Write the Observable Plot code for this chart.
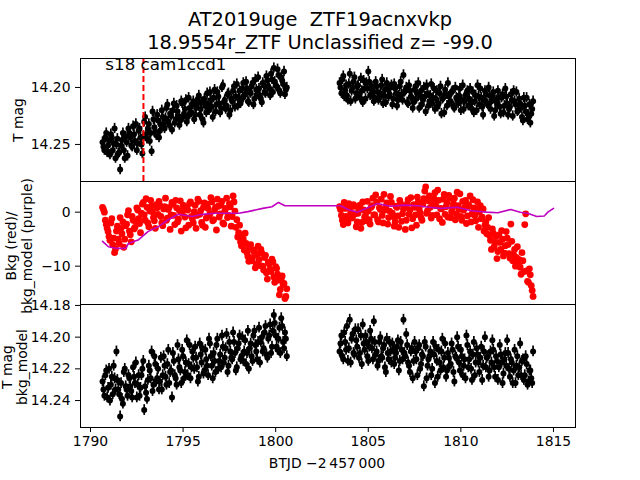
<!DOCTYPE html>
<html><head><meta charset="utf-8">
<script src="https://cdn.jsdelivr.net/npm/d3@7"></script>
<script src="https://cdn.jsdelivr.net/npm/@observablehq/plot@0.6"></script>
<style>
body{margin:0;background:#fff;}
#fig{position:relative;width:640px;height:480px;font-family:"DejaVu Sans",sans-serif;color:#000;overflow:hidden;background:#fff;}
.lbl{position:absolute;white-space:pre;text-align:center;font-size:13.9px;transform:translate(-50%,-50%) rotate(-90deg);}
.ttl{position:absolute;left:0;width:640px;text-align:center;white-space:pre;}
</style></head><body><div id="fig"></div><script>
// ---------------- data ----------------
const titleLines = ["AT2019uge  ZTF19acnxvkp", "18.9554r_ZTF Unclassified z= -99.0"];
const sectorLabel = "s18 cam1ccd1";
const tText = 1790.8, yText = 14.1798;
const tDash = 1792.86;
const xLabel = "BTJD \u22122\u2009457\u2009000";
const xTicks = [1790, 1795, 1800, 1805, 1810, 1815];
const y1Ticks = [14.20, 14.25];
const y2Ticks = [0, -10];
const y3Ticks = [14.18, 14.20, 14.22, 14.24];
const magErr1 = 0.0045;   // typical error, panel 1
const magErr3 = 0.0034;   // typical error, panel 3

// observation times (orbit 1 and orbit 2, two interleaved cadence sets)
const t1 = [
1790.7,1790.8,1790.9,1791.0,1791.1,1791.2,1791.3,1791.4,1791.5,1791.6,
1791.7,1791.8,1791.9,1792.0,1792.1,1792.2,1792.3,1792.4,1792.5,1792.6,
1792.7,1792.8,1792.9,1793.0,1793.1,1793.2,1793.3,1793.4,1793.5,1793.6,
1793.7,1793.8,1793.9,1794.0,1794.1,1794.2,1794.3,1794.4,1794.5,1794.6,
1794.7,1794.8,1794.9,1795.0,1795.1,1795.2,1795.3,1795.4,1795.5,1795.6,
1795.7,1795.8,1795.9,1796.0,1796.1,1796.2,1796.3,1796.4,1796.5,1796.6,
1796.7,1796.8,1796.9,1797.0,1797.1,1797.2,1797.3,1797.4,1797.5,1797.6,
1797.7,1797.8,1797.9,1798.0,1798.1,1798.2,1798.3,1798.4,1798.5,1798.6,
1798.7,1798.8,1798.9,1799.0,1799.1,1799.2,1799.3,1799.4,1799.5,1799.6,
1799.7,1799.8,1799.9,1800.0,1800.1,1800.2,1800.3,1800.4,1800.5,1800.6];
const t1h = [
1790.65,1790.75,1790.85,1790.95,1791.05,1791.15,1791.25,1791.35,1791.45,1791.55,
1791.65,1791.75,1791.85,1791.95,1792.05,1792.15,1792.25,1792.35,1792.45,1792.55,
1792.65,1792.75,1792.85,1792.95,1793.05,1793.15,1793.25,1793.35,1793.45,1793.55,
1793.65,1793.75,1793.85,1793.95,1794.05,1794.15,1794.25,1794.35,1794.45,1794.55,
1794.65,1794.75,1794.85,1794.95,1795.05,1795.15,1795.25,1795.35,1795.45,1795.55,
1795.65,1795.75,1795.85,1795.95,1796.05,1796.15,1796.25,1796.35,1796.45,1796.55,
1796.65,1796.75,1796.85,1796.95,1797.05,1797.15,1797.25,1797.35,1797.45,1797.55,
1797.65,1797.75,1797.85,1797.95,1798.05,1798.15,1798.25,1798.35,1798.45,1798.55,
1798.65,1798.75,1798.85,1798.95,1799.05,1799.15,1799.25,1799.35,1799.45,1799.55,
1799.65,1799.75,1799.85,1799.95,1800.05,1800.15,1800.25,1800.35,1800.45,1800.55];
const t2 = [
1803.5,1803.6,1803.7,1803.8,1803.9,1804.0,1804.1,1804.2,1804.3,1804.4,
1804.5,1804.6,1804.7,1804.8,1804.9,1805.0,1805.1,1805.2,1805.3,1805.4,
1805.5,1805.6,1805.7,1805.8,1805.9,1806.0,1806.1,1806.2,1806.3,1806.4,
1806.5,1806.6,1806.7,1806.8,1806.9,1807.0,1807.1,1807.2,1807.3,1807.4,
1807.5,1807.6,1807.7,1807.8,1807.9,1808.0,1808.1,1808.2,1808.3,1808.4,
1808.5,1808.6,1808.7,1808.8,1808.9,1809.0,1809.1,1809.2,1809.3,1809.4,
1809.5,1809.6,1809.7,1809.8,1809.9,1810.0,1810.1,1810.2,1810.3,1810.4,
1810.5,1810.6,1810.7,1810.8,1810.9,1811.0,1811.1,1811.2,1811.3,1811.4,
1811.5,1811.6,1811.7,1811.8,1811.9,1812.0,1812.1,1812.2,1812.3,1812.4,
1812.5,1812.6,1812.7,1812.8,1812.9,1813.0,1813.1,1813.2,1813.3,1813.4,
1813.5,1813.6,1813.7,1813.8,1813.9];
const t2h = [
1803.45,1803.55,1803.65,1803.75,1803.85,1803.95,1804.05,1804.15,1804.25,1804.35,
1804.45,1804.55,1804.65,1804.75,1804.85,1804.95,1805.05,1805.15,1805.25,1805.35,
1805.45,1805.55,1805.65,1805.75,1805.85,1805.95,1806.05,1806.15,1806.25,1806.35,
1806.45,1806.55,1806.65,1806.75,1806.85,1806.95,1807.05,1807.15,1807.25,1807.35,
1807.45,1807.55,1807.65,1807.75,1807.85,1807.95,1808.05,1808.15,1808.25,1808.35,
1808.45,1808.55,1808.65,1808.75,1808.85,1808.95,1809.05,1809.15,1809.25,1809.35,
1809.45,1809.55,1809.65,1809.75,1809.85,1809.95,1810.05,1810.15,1810.25,1810.35,
1810.45,1810.55,1810.65,1810.75,1810.85,1810.95,1811.05,1811.15,1811.25,1811.35,
1811.45,1811.55,1811.65,1811.75,1811.85,1811.95,1812.05,1812.15,1812.25,1812.35,
1812.45,1812.55,1812.65,1812.75,1812.85,1812.95,1813.05,1813.15,1813.25,1813.35,
1813.45,1813.55,1813.65,1813.75,1813.85];

// panel 1: T mag
const mag1a = [
14.252,14.244,14.257,14.247,14.241,14.255,14.236,14.250,14.258,14.272,
14.246,14.255,14.243,14.260,14.240,14.251,14.234,14.247,14.255,14.238,
14.244,14.258,14.230,14.241,14.236,14.247,14.256,14.228,14.239,14.224,
14.244,14.233,14.226,14.236,14.218,14.230,14.223,14.237,14.214,14.228,
14.221,14.233,14.212,14.226,14.219,14.230,14.209,14.222,14.215,14.228,
14.218,14.210,14.224,14.213,14.231,14.216,14.205,14.220,14.211,14.226,
14.202,14.215,14.208,14.222,14.200,14.213,14.219,14.206,14.224,14.210,
14.203,14.217,14.197,14.209,14.214,14.201,14.207,14.195,14.212,14.204,
14.199,14.215,14.193,14.206,14.201,14.210,14.196,14.204,14.190,14.199,
14.207,14.193,14.183,14.198,14.184,14.203,14.191,14.197,14.206,14.200];
const mag1ah = [
14.248,14.255,14.240,14.251,14.259,14.244,14.249,14.262,14.245,14.257,
14.251,14.240,14.262,14.248,14.236,14.244,14.252,14.241,14.232,14.249,
14.236,14.250,14.243,14.226,14.245,14.232,14.240,14.221,14.235,14.242,
14.229,14.238,14.220,14.232,14.227,14.215,14.233,14.225,14.220,14.231,
14.216,14.225,14.229,14.214,14.223,14.211,14.226,14.218,14.222,14.212,
14.224,14.215,14.207,14.219,14.228,14.210,14.222,14.214,14.204,14.217,
14.209,14.221,14.204,14.214,14.218,14.198,14.211,14.216,14.205,14.220,
14.212,14.199,14.208,14.216,14.203,14.211,14.196,14.206,14.201,14.213,
14.205,14.196,14.210,14.202,14.191,14.207,14.213,14.198,14.205,14.194,
14.201,14.188,14.204,14.195,14.199,14.189,14.205,14.194,14.186,14.202];
const mag1b = [
14.200,14.193,14.208,14.198,14.211,14.188,14.203,14.195,14.210,14.199,
14.206,14.192,14.213,14.201,14.196,14.186,14.207,14.199,14.212,14.195,
14.204,14.209,14.198,14.214,14.202,14.196,14.208,14.200,14.215,14.197,
14.205,14.211,14.199,14.206,14.189,14.203,14.213,14.198,14.208,14.218,
14.202,14.210,14.196,14.207,14.215,14.200,14.221,14.205,14.212,14.197,
14.209,14.219,14.203,14.214,14.199,14.210,14.222,14.206,14.196,14.213,
14.204,14.217,14.200,14.211,14.207,14.220,14.198,14.212,14.205,14.216,
14.201,14.213,14.222,14.207,14.198,14.215,14.209,14.224,14.203,14.214,
14.200,14.219,14.208,14.225,14.211,14.203,14.217,14.209,14.222,14.201,
14.214,14.219,14.206,14.225,14.212,14.204,14.220,14.214,14.226,14.209,
14.221,14.228,14.215,14.223,14.212];
const mag1bh = [
14.196,14.205,14.190,14.202,14.207,14.197,14.212,14.200,14.191,14.205,
14.198,14.209,14.203,14.194,14.210,14.201,14.195,14.206,14.203,14.209,
14.199,14.211,14.205,14.193,14.207,14.213,14.201,14.206,14.198,14.210,
14.201,14.216,14.207,14.195,14.211,14.204,14.200,14.214,14.203,14.209,
14.213,14.199,14.206,14.218,14.203,14.211,14.208,14.198,14.216,14.207,
14.214,14.201,14.210,14.217,14.205,14.223,14.209,14.202,14.216,14.208,
14.212,14.203,14.218,14.209,14.214,14.201,14.211,14.219,14.207,14.203,
14.210,14.218,14.204,14.212,14.220,14.208,14.201,14.217,14.211,14.206,
14.215,14.207,14.212,14.204,14.220,14.214,14.209,14.223,14.206,14.216,
14.208,14.224,14.217,14.211,14.203,14.215,14.221,14.210,14.218,14.229,
14.216,14.209,14.224,14.231,14.219];

// panel 2: background (red) and background model (purple)
const bkg2a = [
0.5,-1.5,-3.0,-4.5,-2.0,-6.0,-7.5,-3.5,-5.0,-1.0,
-4.0,-6.5,-2.5,-0.5,-3.5,-5.5,-1.5,-2.8,0.8,-1.2,
-3.8,1.5,-0.5,2.5,-2.0,0.2,1.2,-1.0,-3.0,0.8,
2.0,-0.8,-2.5,1.0,-1.5,0.5,-3.2,1.8,-0.6,2.2,
-1.8,0.3,-3.5,1.3,-0.9,0.6,-2.4,1.9,-1.2,0.1,
-3.0,2.4,-0.4,-1.9,0.9,-2.8,1.5,-0.7,2.7,-1.6,
0.4,-3.3,1.1,-0.3,2.0,-2.2,0.7,-1.0,1.6,-2.6,
3.0,0.2,-1.4,-3.8,-5.5,-4.2,-7.0,-5.8,-8.2,-6.5,
-9.0,-7.2,-10.3,-7.8,-8.8,-6.9,-10.0,-8.4,-11.2,-9.3,
-10.6,-8.7,-12.0,-10.1,-11.5,-15.3,-12.3,-13.4,-16.0,-14.2];
const bkg2ah = [
0.9,0.0,-2.3,-3.6,-5.2,-1.2,-4.8,-6.8,-2.6,-5.8,
-3.0,-1.8,-5.0,-2.2,0.3,-4.2,-0.8,-3.1,-1.7,0.4,
-2.1,-0.2,1.8,-1.5,0.9,-2.7,2.2,0.1,-1.6,1.4,
-0.4,1.2,-2.0,0.6,2.6,-1.1,0.9,-0.5,1.5,-2.3,
0.8,-1.3,2.1,-0.2,1.0,-2.9,0.4,1.6,-0.8,-2.0,
1.3,-0.6,2.0,0.3,-2.4,1.7,-1.1,0.7,-0.3,1.9,
-1.4,0.9,2.4,-0.9,1.3,-2.0,0.2,2.6,-0.6,1.0,
-0.8,1.9,-2.8,-4.6,-2.4,-6.2,-5.0,-3.9,-7.5,-9.1,
-6.0,-8.4,-7.0,-9.6,-6.3,-9.9,-7.6,-10.7,-8.0,-12.4,
-9.6,-11.0,-9.2,-13.0,-10.4,-12.6,-14.3,-11.8,-13.2,-15.6];
const bkg2b = [
0.5,-1.5,1.8,-0.8,-2.0,0.9,-1.1,1.4,-0.3,-1.8,
0.6,-3.0,1.9,-0.9,-1.6,0.2,-2.2,1.2,-0.5,3.2,
-1.4,0.8,2.4,-2.0,0.4,1.7,-1.0,2.9,-0.2,-2.6,
1.1,-0.7,2.2,-1.7,0.6,-3.2,1.5,-0.4,2.7,-1.2,
0.9,-2.4,1.9,-0.1,-1.5,2.5,4.7,0.3,3.0,-1.1,
1.8,3.6,-0.5,2.2,0.7,-1.9,3.3,1.0,-0.9,2.6,
0.1,1.6,-1.4,3.7,0.5,-0.8,2.0,0.9,-2.1,1.4,
3.0,-0.3,0.8,-1.6,1.9,0.0,-1.2,0.6,-2.4,-4.0,
-1.0,-5.2,-3.1,-6.4,-4.5,-7.3,-5.6,-3.4,-8.1,-6.2,
-4.8,-7.7,-2.2,-9.0,-6.9,-8.4,-9.4,-10.2,-7.5,-11.0,
-0.3,-12.8,-10.5,-13.6,-15.6];
const bkg2bh = [
1.0,-0.6,-2.3,0.7,-1.3,1.6,0.0,-0.9,1.1,-2.7,
-0.2,1.3,-1.9,0.4,-0.7,2.0,-1.4,0.9,2.6,-0.5,
1.9,-1.8,0.5,-0.6,3.3,1.0,-2.2,0.2,1.8,-0.8,
-1.8,0.9,-2.8,1.6,-0.3,0.8,-1.5,2.3,0.4,-2.9,
1.4,-0.5,2.8,0.6,-1.0,1.5,3.9,-0.2,2.1,0.9,
-0.6,2.5,1.2,4.1,-1.2,0.6,2.4,-0.4,1.7,3.1,
-1.0,0.8,2.6,-0.3,1.2,3.4,-1.5,0.4,2.2,-0.7,
1.1,-1.8,2.3,-0.6,0.6,-2.8,1.2,-0.9,-3.5,-1.8,
-2.8,-4.3,-6.9,-3.9,-5.6,-8.6,-4.2,-6.9,-5.0,-7.6,
-3.6,-6.0,-8.5,-5.4,-7.9,-10.0,-6.4,-8.8,-11.5,-9.0,
-2.3,-10.9,-13.0,-11.6,-14.5];
const tModel = [
1790.65,1790.97,1791.35,1791.9,1792.05,1792.6,1793.1,1793.7,1794.2,1794.75,
1795.5,1796.05,1796.75,1797.45,1798.0,1798.5,1799.3,1799.8,1800.15,1800.5,1800.7,
1803.5,1803.9,1804.4,1804.75,1805.5,1806.2,1807.0,1807.65,1808.3,1808.9,
1809.8,1810.5,1811.4,1812.0,1812.7,1813.2,1813.6,1814.1,1814.5,1814.7,1815.0];
const bkgModel = [
-5.4,-6.4,-6.7,-6.7,-5.8,-5.1,-3.6,-2.6,-1.4,-0.4,
-0.8,-0.4,-0.2,-0.2,-0.2,0.1,0.7,1.0,1.8,1.2,1.2,
1.2,0.5,0.0,0.5,1.6,1.1,1.3,1.2,0.9,0.7,
0.9,0.3,0.0,-0.1,0.5,0.0,-0.2,-0.8,-0.7,0.0,0.7];

// panel 3: T mag - bkg_model
const mag3a = [
14.233,14.224,14.238,14.220,14.230,14.236,14.226,14.209,14.233,14.250,
14.239,14.222,14.231,14.237,14.226,14.234,14.219,14.229,14.238,14.224,
14.232,14.220,14.246,14.235,14.227,14.221,14.209,14.230,14.217,14.226,
14.233,14.213,14.224,14.218,14.230,14.208,14.222,14.238,14.215,14.226,
14.205,14.219,14.229,14.212,14.222,14.202,14.217,14.226,14.209,14.220,
14.213,14.228,14.204,14.216,14.223,14.208,14.218,14.201,14.212,14.226,
14.215,14.205,14.220,14.211,14.199,14.216,14.207,14.222,14.203,14.213,
14.197,14.210,14.219,14.204,14.214,14.200,14.209,14.217,14.196,14.207,
14.212,14.199,14.205,14.214,14.194,14.203,14.209,14.197,14.211,14.201,
14.192,14.206,14.186,14.199,14.208,14.194,14.188,14.203,14.197,14.212];
const mag3ah = [
14.228,14.237,14.221,14.232,14.240,14.225,14.218,14.233,14.227,14.236,
14.229,14.242,14.220,14.233,14.224,14.231,14.238,14.225,14.216,14.230,
14.237,14.224,14.215,14.231,14.239,14.218,14.226,14.234,14.212,14.228,
14.220,14.228,14.233,14.212,14.225,14.217,14.229,14.221,14.210,14.224,
14.230,14.214,14.221,14.208,14.226,14.216,14.224,14.205,14.219,14.213,
14.206,14.219,14.225,14.211,14.207,14.221,14.214,14.224,14.204,14.218,
14.210,14.222,14.201,14.215,14.219,14.206,14.213,14.198,14.218,14.209,
14.214,14.203,14.221,14.207,14.199,14.212,14.215,14.202,14.210,14.220,
14.204,14.215,14.196,14.209,14.203,14.216,14.200,14.207,14.193,14.213,
14.199,14.210,14.196,14.191,14.206,14.201,14.210,14.193,14.207,14.201];
const mag3b = [
14.204,14.212,14.197,14.208,14.215,14.189,14.201,14.210,14.195,14.206,
14.213,14.199,14.192,14.208,14.203,14.215,14.196,14.207,14.190,14.211,
14.218,14.203,14.212,14.207,14.219,14.201,14.214,14.209,14.204,14.217,
14.210,14.202,14.215,14.208,14.189,14.212,14.205,14.218,14.209,14.226,
14.203,14.214,14.207,14.220,14.211,14.231,14.206,14.218,14.212,14.224,
14.203,14.229,14.215,14.208,14.221,14.201,14.213,14.225,14.210,14.218,
14.204,14.222,14.212,14.200,14.216,14.208,14.224,14.214,14.199,14.219,
14.209,14.227,14.203,14.216,14.211,14.222,14.206,14.218,14.200,14.213,
14.225,14.209,14.202,14.219,14.212,14.227,14.205,14.216,14.223,14.210,
14.202,14.220,14.214,14.229,14.208,14.218,14.224,14.204,14.215,14.227,
14.212,14.230,14.221,14.226,14.209];
const mag3bh = [
14.209,14.199,14.214,14.203,14.193,14.207,14.216,14.198,14.211,14.202,
14.195,14.210,14.217,14.204,14.199,14.212,14.206,14.201,14.214,14.203,
14.209,14.215,14.200,14.213,14.205,14.222,14.210,14.203,14.216,14.208,
14.213,14.206,14.221,14.203,14.214,14.210,14.198,14.216,14.222,14.207,
14.215,14.209,14.224,14.205,14.217,14.212,14.203,14.226,14.214,14.209,
14.220,14.211,14.206,14.225,14.216,14.209,14.219,14.204,14.221,14.213,
14.217,14.208,14.228,14.213,14.206,14.221,14.212,14.218,14.226,14.205,
14.214,14.220,14.211,14.224,14.207,14.216,14.213,14.227,14.209,14.219,
14.212,14.221,14.216,14.208,14.225,14.215,14.219,14.211,14.229,14.214,
14.218,14.210,14.225,14.216,14.221,14.229,14.212,14.219,14.224,14.214,
14.224,14.217,14.228,14.221,14.229];

// ---------------- layout ----------------
const fig = document.getElementById("fig");
const W = 640, ML = 80, MR = 65;
const X_DOMAIN = [1789.46, 1816.19];
const baseStyle = {fontFamily: "DejaVu Sans", fontSize: "13.9px", background: "transparent", overflow: "visible", color: "black"};

function place(el, top) {
  el.style.position = "absolute"; el.style.left = "0px"; el.style.top = top + "px";
  fig.appendChild(el);
}
function addDiv(cls, text, css) {
  const d = document.createElement("div");
  d.className = cls; d.textContent = text;
  Object.assign(d.style, css);
  fig.appendChild(d);
}

const pts = (ts, vs) => ts.map((t, i) => ({t, v: vs[i]}));
const p1 = [...pts(t1, mag1a), ...pts(t1h, mag1ah), ...pts(t2, mag1b), ...pts(t2h, mag1bh)];
const p2 = [...pts(t1, bkg2a), ...pts(t1h, bkg2ah), ...pts(t2, bkg2b), ...pts(t2h, bkg2bh)];
const pm = pts(tModel, bkgModel);
const p3 = [...pts(t1, mag3a), ...pts(t1h, mag3ah), ...pts(t2, mag3b), ...pts(t2h, mag3bh)];

const errMarks = (data, err) => [
  Plot.ruleX(data, {x: "t", y1: d => d.v - err, y2: d => d.v + err, stroke: "black", strokeWidth: 1.7}),
  Plot.dot(data, {x: "t", y: "v", r: 3, fill: "black"})
];

const panel1 = Plot.plot({
  width: W, height: 131, marginLeft: ML, marginRight: MR, marginTop: 8, marginBottom: 0,
  style: baseStyle,
  x: {domain: X_DOMAIN, axis: null},
  y: {domain: [14.1746, 14.2825], reverse: true, ticks: y1Ticks, tickFormat: d3.format(".2f"), tickSize: 5, tickPadding: 5, label: null},
  marks: [
    ...errMarks(p1, magErr1),
    Plot.ruleX([tDash], {x: d => d, stroke: "red", strokeWidth: 2, strokeDasharray: "6,3"}),
    Plot.text([{t: tText, v: yText, s: sectorLabel}], {x: "t", y: "v", text: "s", textAnchor: "start", fontSize: 16.7, fill: "black"}),
    Plot.frame({stroke: "black", strokeWidth: 1})
  ]
});
place(panel1, 50);

const panel2 = Plot.plot({
  width: W, height: 123, marginLeft: ML, marginRight: MR, marginTop: 0, marginBottom: 0,
  style: baseStyle,
  x: {domain: X_DOMAIN, axis: null},
  y: {domain: [-17.1, 5.68], ticks: y2Ticks, tickFormat: d3.format("d"), tickSize: 5, tickPadding: 5, label: null},
  marks: [
    Plot.dot(p2, {x: "t", y: "v", r: 3.4, fill: "red"}),
    Plot.line(pm, {x: "t", y: "v", stroke: "#bf00bf", strokeWidth: 1.6}),
    Plot.frame({stroke: "black", strokeWidth: 1})
  ]
});
place(panel2, 181);

const panel3 = Plot.plot({
  width: W, height: 160, marginLeft: ML, marginRight: MR, marginTop: 0, marginBottom: 37,
  style: baseStyle,
  x: {domain: X_DOMAIN, ticks: xTicks, tickFormat: d3.format("d"), tickSize: 5, tickPadding: 4, label: null},
  y: {domain: [14.1794, 14.257], reverse: true, ticks: y3Ticks, tickFormat: d3.format(".2f"), tickSize: 5, tickPadding: 5, label: null},
  marks: [
    ...errMarks(p3, magErr3),
    Plot.frame({stroke: "black", strokeWidth: 1})
  ]
});
place(panel3, 304);

// titles and axis labels
addDiv("ttl", titleLines.join("\n"), {top: "8px", fontSize: "19.4px", lineHeight: "23px"});
addDiv("lbl", "T mag", {left: "18px", top: "120px", lineHeight: "16px"});
addDiv("lbl", "Bkg (red)/\nbkg_model (purple)", {left: "19px", top: "246px", lineHeight: "16px"});
addDiv("lbl", "T mag\nbkg_model", {left: "15px", top: "367px", lineHeight: "15px"});
addDiv("ttl", xLabel, {top: "454px", left: "7px", fontSize: "13.9px", lineHeight: "18px"});
</script></body></html>
